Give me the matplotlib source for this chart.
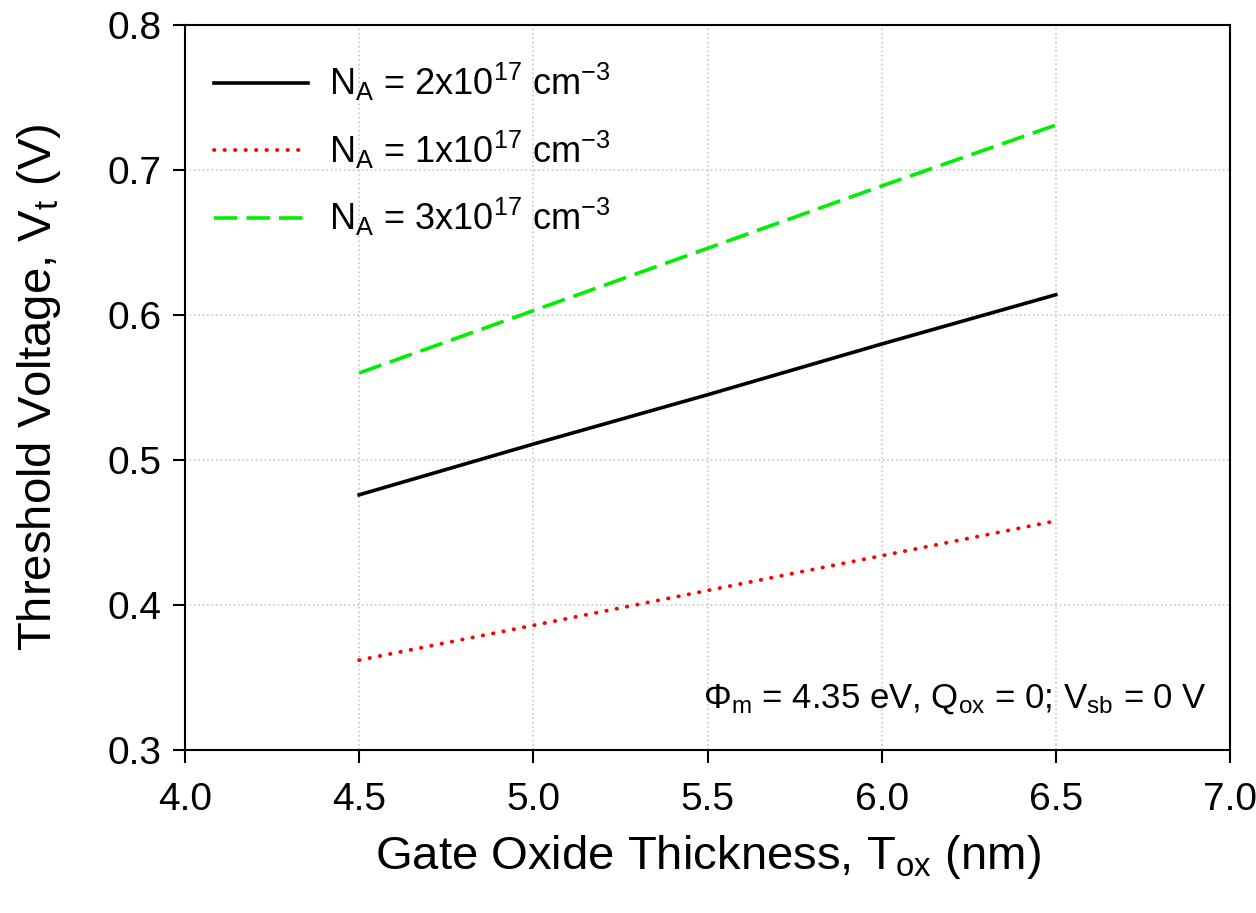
import matplotlib
matplotlib.use("Agg")
import matplotlib.pyplot as plt

plt.rcParams["font.family"] = ["Liberation Sans", "DejaVu Sans"]
plt.rcParams["mathtext.default"] = "regular"

# Threshold voltage vs oxide thickness
tox = [4.5, 5.0, 5.5, 6.0, 6.5]
vt_2e17 = [0.476, 0.511, 0.545, 0.580, 0.614]
vt_1e17 = [0.362, 0.386, 0.410, 0.434, 0.458]
vt_3e17 = [0.560, 0.603, 0.646, 0.689, 0.731]

labels = [
    r"N$_A$ = 2x10$^{17}$ cm$^{-3}$",
    r"N$_A$ = 1x10$^{17}$ cm$^{-3}$",
    r"N$_A$ = 3x10$^{17}$ cm$^{-3}$",
]
xticks = [4.0, 4.5, 5.0, 5.5, 6.0, 6.5, 7.0]
yticks = [0.3, 0.4, 0.5, 0.6, 0.7, 0.8]

fig = plt.figure(figsize=(12.56, 9.13), dpi=100)
ax = fig.add_axes([0.1473, 0.1785, 0.8320, 0.7941])

ax.plot(tox, vt_2e17, color="black", lw=2.6, ls="-", label=labels[0])
ax.plot(tox, vt_1e17, color="#ff0000", lw=2.8, ls=(0, (0.1, 2.6)),
        dash_capstyle="round", label=labels[1])
ax.plot(tox, vt_3e17, color="#00ee00", lw=2.6, ls=(0, (6.5, 2.5)), label=labels[2])

ax.set_xlim(4.0, 7.0)
ax.set_ylim(0.3, 0.8)
ax.set_xticks(xticks)
ax.set_xticklabels([f"{v:.1f}" for v in xticks])
ax.set_yticks(yticks)
ax.set_yticklabels([f"{v:.1f}" for v in yticks])
ax.tick_params(direction="out", length=9, width=1.5, labelsize=28)
ax.tick_params(axis="x", pad=14)
ax.tick_params(axis="y", pad=8)
for spine in ax.spines.values():
    spine.set_linewidth(1.5)
ax.grid(True, color="#c8c8c8", ls=":", lw=1.2)

ax.set_xlabel(r"Gate Oxide Thickness, T$_{ox}$ (nm)", fontsize=34, labelpad=11)
ax.set_ylabel(r"Threshold Voltage, V$_t$ (V)", fontsize=34, labelpad=32)

ax.text(0.978, 0.07, r"$\Phi_m$ = 4.35 eV, Q$_{ox}$ = 0; V$_{sb}$ = 0 V",
        transform=ax.transAxes, ha="right", va="center", fontsize=25)

ax.legend(loc="upper left", frameon=False, fontsize=26, handlelength=2.6,
          handletextpad=0.6, labelspacing=0.7, borderaxespad=0.4,
          bbox_to_anchor=(0.0, 0.99))

fig.savefig("out.png", dpi=100)
